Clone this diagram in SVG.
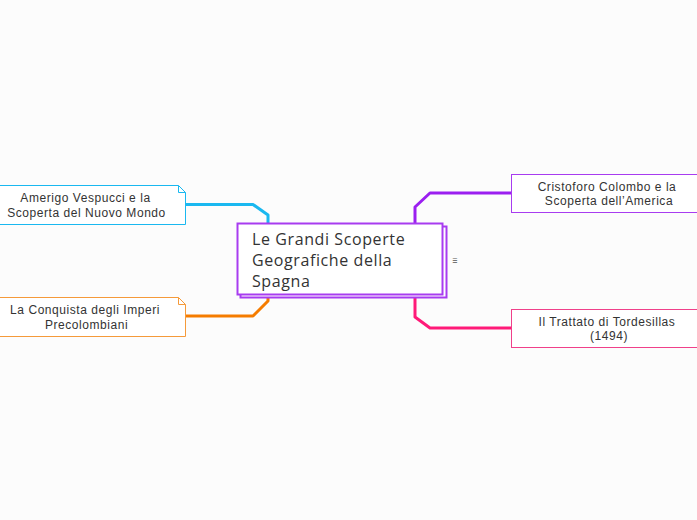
<svg xmlns="http://www.w3.org/2000/svg" width="697" height="520" viewBox="0 0 697 520">
<style>
.bg{fill:#fcfcfc}
.box{fill:#ffffff;stroke-width:1}
.conn{fill:none;stroke-width:3;stroke-linejoin:round}
.t{font-family:"Liberation Sans",Arial,sans-serif;font-size:12px;letter-spacing:0.55px;fill:#333333;text-anchor:middle}
.ct{font-family:"Open Sans","Noto Sans",sans-serif;font-size:16px;letter-spacing:0.6px;fill:#333333}
</style>
<rect class="bg" x="0" y="0" width="697" height="520"/>
<g id="connectors">
<path class="conn" stroke="#1ab8f0" d="M185,204.5 H253 L268,215 V224"/>
<path class="conn" stroke="#f57c00" d="M185,316 H253 L268,301 V296"/>
<path class="conn" stroke="#9b1ff0" d="M511,193 H430 L415,207 V224"/>
<path class="conn" stroke="#ff1a78" d="M511,328 H430 L415,317 V296"/>
</g>
<g id="central">
<rect x="240.5" y="226.5" width="206" height="71" fill="#ffffff" stroke="#a83cf0" stroke-width="2"/>
<rect x="237.5" y="223.5" width="205" height="71" fill="#ffffff" stroke="#a83cf0" stroke-width="2"/>
<text class="ct" x="252" y="244.5">Le Grandi Scoperte</text>
<text class="ct" x="252" y="266">Geografiche della</text>
<text class="ct" x="252" y="286.5">Spagna</text>
<text x="455" y="264" font-family="Lato,sans-serif" font-size="10" fill="#555555" text-anchor="middle">≡</text>
</g>
<g id="amerigo">
<path class="box" stroke="#1ab8f0" d="M-1,185.5 H178.5 L185.5,192.5 V224.5 H-1 Z"/>
<path fill="none" stroke="#1ab8f0" stroke-width="1" d="M178.5,185.5 V192.5 H185.5"/>
<text class="t" x="85.5" y="201.5">Amerigo Vespucci e la</text>
<text class="t" x="86.5" y="216.5">Scoperta del Nuovo Mondo</text>
</g>
<g id="conquista">
<path class="box" stroke="#f59a3a" d="M-1,297.5 H178.5 L185.5,304.5 V336.5 H-1 Z"/>
<path fill="none" stroke="#f59a3a" stroke-width="1" d="M178.5,297.5 V304.5 H185.5"/>
<text class="t" x="85" y="314">La Conquista degli Imperi</text>
<text class="t" x="86.5" y="328.5">Precolombiani</text>
</g>
<g id="colombo">
<rect class="box" stroke="#a83cf0" x="511.5" y="174.5" width="190" height="38"/>
<text class="t" x="607" y="190.5">Cristoforo Colombo e la</text>
<text class="t" x="609" y="204.5">Scoperta dell’America</text>
</g>
<g id="tordesillas">
<rect class="box" stroke="#f0408a" x="511.5" y="309.5" width="190" height="38"/>
<text class="t" x="607" y="325.5">Il Trattato di Tordesillas</text>
<text class="t" x="609" y="340">(1494)</text>
</g>
</svg>
